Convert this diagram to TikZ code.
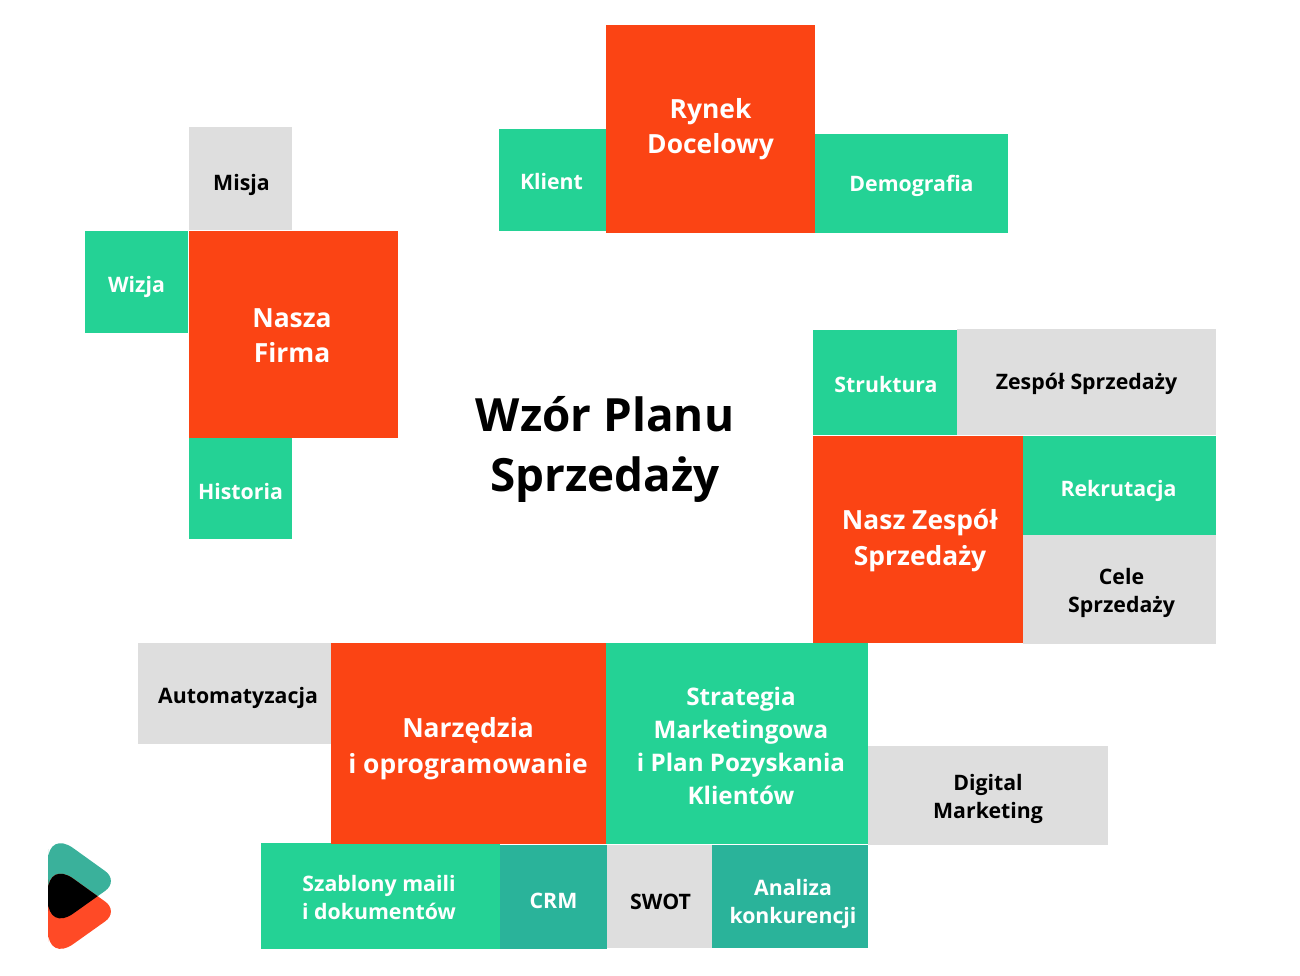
\documentclass[tikz,border=0pt]{standalone}
\usepackage{fontspec}
\setmainfont{Open Sans}
\definecolor{orangefill}{HTML}{FB4414}
\definecolor{greenfill}{HTML}{24D295}
\definecolor{tealfill}{HTML}{2AB39A}
\definecolor{greyfill}{HTML}{DEDEDE}
\definecolor{logogreen}{HTML}{3AB19B}
\definecolor{logored}{HTML}{FF4A26}
\newcommand{\logopath}{(48,880) [rounded corners=31pt] -- (48,830) [rounded corners=17pt] -- (119,881) [rounded corners=31pt] -- (48,931.5) -- (48,880) -- cycle}
\tikzset{
  smalltext/.style={inner sep=0pt,align=center,text=white,font=\bfseries\fontsize{21.3}{28}\selectfont},
  orangebox/.style n args={3}{inner sep=0pt,fill=orangefill,label={[smalltext,font=\bfseries\fontsize{26.4}{35.5}\selectfont,xshift=#1pt,yshift=-#2pt]center:#3}},
  greenbox/.style n args={3}{inner sep=0pt,fill=greenfill,label={[smalltext,xshift=#1pt,yshift=-#2pt]center:#3}},
  bigbox/.style n args={3}{inner sep=0pt,fill=greenfill,label={[smalltext,font=\bfseries\fontsize{24.2}{33}\selectfont,xshift=#1pt,yshift=-#2pt]center:#3}},
  tealbox/.style n args={3}{inner sep=0pt,fill=tealfill,label={[smalltext,xshift=#1pt,yshift=-#2pt]center:#3}},
  greybox/.style n args={3}{inner sep=0pt,fill=greyfill,label={[smalltext,text=black,xshift=#1pt,yshift=-#2pt]center:#3}},
}
\begin{document}
\begin{tikzpicture}[x=1pt,y=-1pt]
    \useasboundingbox (0,0) rectangle (1300,975);
    % Nasza Firma
    \node (misja) at (240.5,178.5) [greybox={1}{6}{Misja},minimum width=103pt,minimum height=103pt] {};
    \node (wizja) at (136.5,282) [greenbox={0}{5}{Wizja},minimum width=103pt,minimum height=102pt] {};
    \node (historia) at (240.5,488) [greenbox={0}{4}{Historia},minimum width=103pt,minimum height=102pt] {};
    \node (firma) at (293.5,334.5) [orangebox={-1.5}{1}{Nasza\\Firma},minimum width=209pt,minimum height=207pt] {};
    % Rynek Docelowy
    \node (klient) at (552.5,180) [greenbox={-1}{2}{Klient},minimum width=107pt,minimum height=102pt] {};
    \node (demografia) at (911.5,183.5) [greenbox={0}{2}{Demografia},minimum width=193pt,minimum height=99pt] {};
    \node (rynek) at (710.5,129) [orangebox={0}{0}{Rynek\\Docelowy},minimum width=209pt,minimum height=208pt] {};
    % Title
    \node (title) at (605,449) [align=center,font=\bfseries\fontsize{45.8}{60}\selectfont] {Wzór Planu\\Sprzedaży};
    % Nasz Zespol
    \node (struktura) at (885,382.5) [greenbox={1}{2}{Struktura},minimum width=144pt,minimum height=105pt] {};
    \node (zespol) at (1086.5,382) [greybox={0}{2}{Zespół Sprzedaży},minimum width=259pt,minimum height=106pt] {};
    \node (rekrutacja) at (1119.5,485.5) [greenbox={-1}{5}{Rekrutacja},minimum width=193pt,minimum height=99pt] {};
    \node (cele) at (1119.5,589.5) [greybox={2}{3}{Cele\\Sprzedaży},minimum width=193pt,minimum height=109pt] {};
    \node (sprzedaz) at (918,539.5) [orangebox={2}{1}{Nasz Zespół\\Sprzedaży},minimum width=210pt,minimum height=207pt] {};
    % Narzedzia
    \node (auto) at (234.5,693.5) [greybox={3.5}{4}{Automatyzacja},minimum width=193pt,minimum height=101pt] {};
    \node (digital) at (988,795.5) [greybox={0}{3}{Digital\\Marketing},minimum width=240pt,minimum height=99pt] {};
    \node (szablony) at (380.5,896) [greenbox={-1.5}{1}{Szablony maili\\i dokumentów},minimum width=239pt,minimum height=106pt] {};
    \node (crm) at (553.5,897) [tealbox={0}{4}{CRM},minimum width=107pt,minimum height=104pt] {};
    \node (swot) at (659.5,896.5) [greybox={1}{5}{SWOT},minimum width=105pt,minimum height=103pt] {};
    \node (analiza) at (790,896.5) [tealbox={3}{7}{Analiza\\konkurencji},minimum width=156pt,minimum height=103pt] {};
    \node (narzedzia) at (468.5,743.5) [orangebox={-0.5}{5}{Narzędzia\\i oprogramowanie},minimum width=275pt,minimum height=201pt] {};
    \node (strategia) at (737,743.5) [bigbox={4}{2}{Strategia\\Marketingowa\\i Plan Pozyskania\\Klientów},minimum width=262pt,minimum height=201pt] {};
    % logo
    \fill[logogreen] \logopath;
    \fill[logored,shift={(0,30.5)}] \logopath;
    \begin{scope}
      \clip \logopath;
      \fill[black,shift={(0,30.5)}] \logopath;
    \end{scope}
\end{tikzpicture}
\end{document}
